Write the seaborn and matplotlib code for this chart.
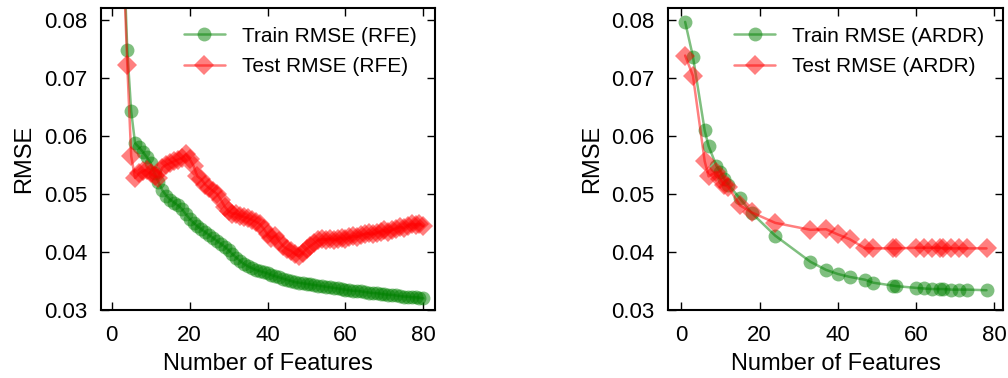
import matplotlib
matplotlib.use("Agg")
import matplotlib.pyplot as plt
import seaborn as sns
import numpy as np
import pandas as pd

# ---------------- data ----------------
rfe_n = list(range(1, 81))
rfe_train = [0.140, 0.115, 0.093, 0.0747, 0.0642, 0.0587, 0.0580, 0.0572, 0.0563, 0.0553,
             0.0535, 0.0520, 0.0506, 0.0497, 0.0490, 0.0485, 0.0480, 0.0474, 0.0465, 0.0457,
             0.0450, 0.0444, 0.0439, 0.0434, 0.0429, 0.0424, 0.0419, 0.0414, 0.0409, 0.0403,
             0.0396, 0.0390, 0.0384, 0.0379, 0.0375, 0.0372, 0.0369, 0.0367, 0.0365, 0.0363,
             0.0360, 0.0358, 0.0356, 0.0354, 0.0352, 0.0350, 0.0348, 0.0347, 0.0346, 0.0345,
             0.0344, 0.0343, 0.0342, 0.0341, 0.0340, 0.0339, 0.0338, 0.0337, 0.0336, 0.0335,
             0.0334, 0.0333, 0.0333, 0.0332, 0.0331, 0.0330, 0.0329, 0.0329, 0.0328, 0.0327,
             0.0326, 0.0326, 0.0325, 0.0324, 0.0323, 0.0323, 0.0322, 0.0322, 0.0321, 0.0320]
rfe_test = [0.135, 0.110, 0.090, 0.0722, 0.0565, 0.0527, 0.0535, 0.0540, 0.0541, 0.0535,
            0.0530, 0.0528, 0.0545, 0.0550, 0.0553, 0.0556, 0.0559, 0.0562, 0.0568, 0.0560,
            0.0548, 0.0530, 0.0525, 0.0516, 0.0510, 0.0505, 0.0500, 0.0490, 0.0478, 0.0470,
            0.0466, 0.0466, 0.0462, 0.0460, 0.0458, 0.0455, 0.0452, 0.0448, 0.0440, 0.0430,
            0.0424, 0.0428, 0.0418, 0.0410, 0.0405, 0.0402, 0.0396, 0.0393, 0.0398, 0.0405,
            0.0410, 0.0415, 0.0420, 0.0422, 0.0421, 0.0423, 0.0420, 0.0422, 0.0424, 0.0422,
            0.0425, 0.0427, 0.0426, 0.0429, 0.0431, 0.0432, 0.0430, 0.0433, 0.0435, 0.0437,
            0.0434, 0.0438, 0.0440, 0.0443, 0.0441, 0.0445, 0.0448, 0.0447, 0.0448, 0.0444]

ardr_n = [1, 3, 6, 7, 9, 10, 11, 12, 15, 18, 24, 33, 37, 40, 43, 47, 49, 54, 55,
          60, 62, 64, 66, 67, 69, 71, 73, 78]
ardr_train = [0.0796, 0.0736, 0.0609, 0.0582, 0.0548, 0.0538, 0.0525, 0.0516, 0.0492,
              0.0467, 0.0428, 0.0383, 0.0369, 0.0362, 0.0357, 0.0352, 0.0347, 0.0342,
              0.0341, 0.0338, 0.0337, 0.0336, 0.0336, 0.0336, 0.0335, 0.0335, 0.0335, 0.0334]
ardr_test = [0.0738, 0.0703, 0.0556, 0.0530, 0.0538, 0.0525, 0.0516, 0.0512, 0.0480,
             0.0468, 0.0450, 0.0438, 0.0439, 0.0430, 0.0422, 0.0406, 0.0406, 0.0406,
             0.0406, 0.0407, 0.0407, 0.0407, 0.0407, 0.0406, 0.0406, 0.0406, 0.0406, 0.0406]

x_ticks = [0, 20, 40, 60, 80]
y_ticks = [0.03, 0.04, 0.05, 0.06, 0.07, 0.08]
x_label = "Number of Features"
y_label = "RMSE"

# ---------------- style ----------------
sns.set_style("ticks")
plt.rcParams["font.family"] = ["Liberation Sans", "DejaVu Sans"]
plt.rcParams.update({
    "xtick.direction": "in", "ytick.direction": "in",
    "xtick.top": True, "ytick.right": True,
    "xtick.major.size": 6, "ytick.major.size": 6,
    "xtick.major.width": 1.0, "ytick.major.width": 1.0,
    "xtick.color": "black", "ytick.color": "black",
    "axes.linewidth": 1.5, "axes.edgecolor": "black",
    "text.color": "black", "axes.labelcolor": "black",
})

fig = plt.figure(figsize=(10.08, 3.78), dpi=100)
ax1 = fig.add_axes([0.100, 0.180, 0.332, 0.799])
ax2 = fig.add_axes([0.663, 0.180, 0.332, 0.799])

def draw(ax, n, train, test, tag, xlim):
    df = pd.DataFrame({"n": n, "train": train, "test": test})
    sns.lineplot(data=df, x="n", y="train", ax=ax, color="green", marker="o",
                 markersize=10, markeredgewidth=0, alpha=0.5, linewidth=1.8,
                 label=f"Train RMSE ({tag})")
    sns.lineplot(data=df, x="n", y="test", ax=ax, color="red", marker="D",
                 markersize=10, markeredgewidth=0, alpha=0.5, linewidth=1.8,
                 label=f"Test RMSE ({tag})")
    ax.set_xlim(*xlim)
    ax.set_ylim(0.03, 0.082)
    ax.set_xticks(x_ticks)
    ax.set_yticks(y_ticks)
    ax.set_yticklabels([f"{v:.2f}" for v in y_ticks])
    ax.tick_params(axis="x", labelsize=16, colors="black", pad=11)
    ax.tick_params(axis="y", labelsize=16, colors="black", pad=10)
    ax.set_xlabel(x_label, fontsize=17, labelpad=5, color="black")
    ax.set_ylabel(y_label, fontsize=17, labelpad=6, color="black")
    leg = ax.legend(loc="upper right", frameon=False, fontsize=15,
                    handlelength=2.0, borderaxespad=0.5, labelspacing=0.55)
    for t in leg.get_texts():
        t.set_color("black")

draw(ax1, rfe_n, rfe_train, rfe_test, "RFE", (-2.8, 83.1))
draw(ax2, ardr_n, ardr_train, ardr_test, "ARDR", (-3.3, 82.2))

fig.savefig("out.png", dpi=100)
